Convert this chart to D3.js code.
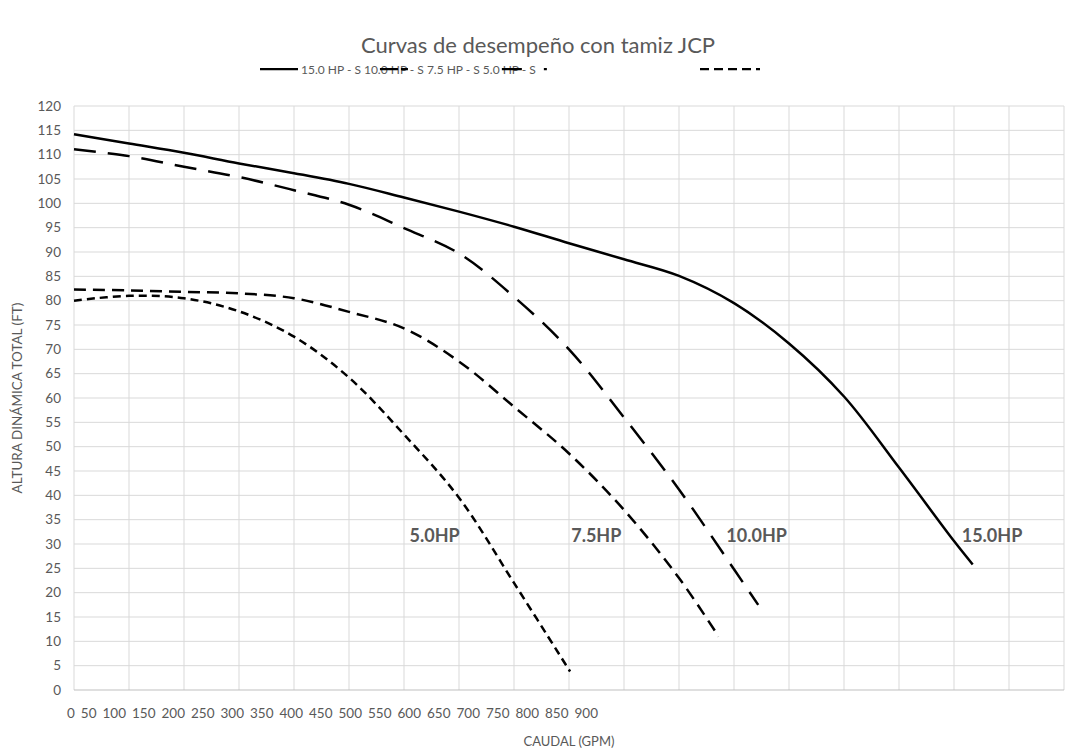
<!DOCTYPE html>
<html>
<head>
<meta charset="utf-8">
<script src="https://cdn.jsdelivr.net/npm/d3@7"></script>
<style>
  body { margin: 0; background: #fff; }
  text { font-family: Lato, 'Open Sans', sans-serif; fill: #595959; }
</style>
</head>
<body>
<div id="chart"></div>
<script>
// caudal (GPM) y altura (ft) por motor
const gpm15 = [0, 50, 100, 150, 200, 250, 300, 350, 400, 450, 500, 550, 600, 650, 700, 750, 800, 817];
const head15 = [114.2, 112.3, 110.4, 108.2, 106.2, 104, 101.2, 98.3, 95.2, 91.8, 88.5, 85.1, 79.5, 71.2, 60.3, 45.7, 30.6, 25.8];
const gpm10 = [0, 50, 100, 150, 200, 250, 300, 350, 400, 450, 500, 550, 600, 622];
const head10 = [111.1, 109.7, 107.5, 105.4, 102.7, 99.7, 94.9, 89.7, 80.8, 70, 56, 41.2, 24.8, 17.5];
const gpm75 = [0, 50, 100, 150, 200, 250, 300, 350, 400, 450, 500, 550, 586];
const head75 = [82.3, 82.1, 81.8, 81.5, 80.5, 77.7, 74.3, 67.5, 58.2, 48.6, 37, 23, 11];
const gpm5 = [0, 50, 100, 150, 200, 250, 300, 350, 400, 451];
const head5 = [80, 81, 80.5, 77.8, 72.6, 64.2, 52.5, 39.5, 22, 3.8];

const seriesNames = ['15.0HP', '10.0HP', '7.5HP', '5.0HP'];
const legendNames = ['15.0 HP - S', '10.0 HP - S', '7.5 HP - S', '5.0 HP - S'];
// donde va cada etiqueta (en unidades del grafico)
const labelGpm = [807, 593, 452, 305];
const labelHead = [30.5, 30.5, 30.5, 30.5];

const xTickLabels = ['0', '50', '100', '150', '200', '250', '300', '350', '400', '450', '500', '550', '600', '650', '700', '750', '800', '850', '900'];
const yTicks = [0, 5, 10, 15, 20, 25, 30, 35, 40, 45, 50, 55, 60, 65, 70, 75, 80, 85, 90, 95, 100, 105, 110, 115, 120];

const width = 1073;
const height = 751;
const margin = { top: 106, right: 9, bottom: 61, left: 74 };

const svg = d3.select('#chart')
  .append('svg')
  .attr('width', width)
  .attr('height', height);

const xScale = d3.scaleLinear().domain([0, 900]).range([margin.left, width - margin.right]);
const yScale = d3.scaleLinear().domain([0, 120]).range([height - margin.bottom, margin.top]);

// grid
const grid = svg.append('g');
grid.selectAll('.vline')
  .data(xTickLabels.map(Number))
  .enter().append('line')
  .attr('x1', d => xScale(d)).attr('x2', d => xScale(d))
  .attr('y1', yScale(0)).attr('y2', yScale(120))
  .attr('stroke', '#d9d9d9').attr('stroke-width', 1);
grid.selectAll('.hline')
  .data(yTicks)
  .enter().append('line')
  .attr('x1', xScale(0)).attr('x2', xScale(900))
  .attr('y1', d => yScale(d)).attr('y2', d => yScale(d))
  .attr('stroke', d => d === 0 ? '#bfbfbf' : '#d9d9d9').attr('stroke-width', 1);

// y ticks
svg.append('g').selectAll('text')
  .data(yTicks)
  .enter().append('text')
  .attr('x', 61)
  .attr('y', d => yScale(d))
  .attr('dy', '0.35em')
  .attr('text-anchor', 'end')
  .style('font-size', '13.5px')
  .text(d => d);

// x labels: excel los amontona todos a la izquierda, uno detras de otro
const xLab = svg.append('g');
const xTexts = xLab.selectAll('text')
  .data(xTickLabels)
  .enter().append('text')
  .attr('y', 718)
  .style('font-size', '13.5px')
  .text(d => d);
const widths = xTexts.nodes().map(n => n.getComputedTextLength());
const gap = (598 - 67 - d3.sum(widths)) / (xTickLabels.length - 1);
let cursor = 67;
xTexts.attr('x', (d, i) => {
  const x = cursor;
  cursor += widths[i] + gap;
  return x;
});

// axis titles
svg.append('text')
  .attr('x', (xScale(0) + xScale(900)) / 2)
  .attr('y', 746)
  .attr('text-anchor', 'middle')
  .style('font-size', '13px')
  .text('CAUDAL (GPM)');

svg.append('text')
  .attr('transform', `translate(22, ${(yScale(0) + yScale(120)) / 2}) rotate(-90)`)
  .attr('text-anchor', 'middle')
  .style('font-size', '13.5px')
  .text('ALTURA DINÁMICA TOTAL (FT)');

svg.append('text')
  .attr('x', 538)
  .attr('y', 53)
  .attr('text-anchor', 'middle')
  .style('font-size', '22px')
  .text('Curvas de desempeño con tamiz JCP');

// curves
const curves = [
  { x: gpm15, y: head15, dash: null },
  { x: gpm10, y: head10, dash: '22,12' },
  { x: gpm75, y: head75, dash: '12,7' },
  { x: gpm5, y: head5, dash: '8,5' }
];

const line = d3.line()
  .x(d => xScale(d[0]))
  .y(d => yScale(d[1]))
  .curve(d3.curveCatmullRom.alpha(0.5));

const lines = svg.append('g');
curves.forEach(c => {
  lines.append('path')
    .attr('d', line(d3.zip(c.x, c.y)))
    .attr('fill', 'none')
    .attr('stroke', '#000')
    .attr('stroke-width', 2.5)
    .attr('stroke-dasharray', c.dash);
});

// etiquetas sobre las curvas
svg.append('g').selectAll('text')
  .data(seriesNames)
  .enter().append('text')
  .attr('x', (d, i) => xScale(labelGpm[i]))
  .attr('y', (d, i) => yScale(labelHead[i]))
  .style('font-size', '18px')
  .style('font-weight', 'bold')
  .text(d => d);

// legend (queda encimada como en el original)
const legend = svg.append('g');
const legTexts = legend.selectAll('text')
  .data(legendNames)
  .enter().append('text')
  .attr('y', 74)
  .style('font-size', '12px')
  .text(d => d);
const legW = legTexts.nodes().map(n => n.getComputedTextLength());
const legX = [];
let lx = 301;
legW.forEach(w => { legX.push(lx); lx += w + 3; });
legTexts.attr('x', (d, i) => legX[i]);

const legendSamples = [
  { x1: 260, x2: 298, dash: null },
  { x1: legX[1] + 16, x2: legX[1] + 44, dash: '18,3' },
  { x1: legX[3] + 19, x2: legX[3] + 64, dash: '20,22' },
  { x1: 700, x2: 760, dash: '9,5' }
];
legendSamples.forEach(s => {
  legend.append('line')
    .attr('x1', s.x1).attr('x2', s.x2)
    .attr('y1', 69).attr('y2', 69)
    .attr('stroke', '#000')
    .attr('stroke-width', 2.25)
    .attr('stroke-dasharray', s.dash);
});
</script>
</body>
</html>
